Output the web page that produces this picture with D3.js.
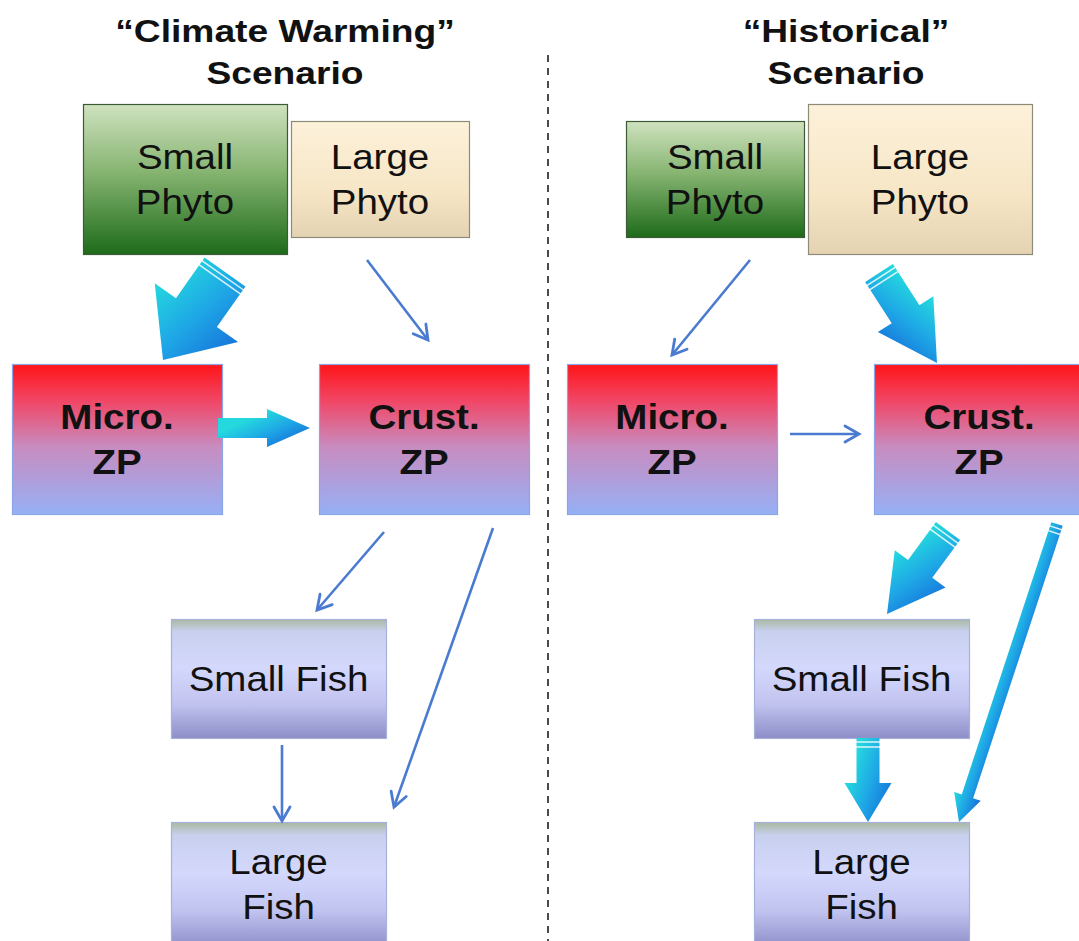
<!DOCTYPE html>
<html><head><meta charset="utf-8">
<script src="https://cdn.jsdelivr.net/npm/d3@7"></script>
<style>html,body{margin:0;padding:0;background:#fff;}svg{display:block;}</style>
</head><body>
<script>
// ---- data ----
const scenarioTitles = ["“Climate Warming”", "“Historical”"];
const scenarioSubtitle = "Scenario";
const nodeIds = ["sp", "lp", "micro", "crust", "sf", "lf"];
const nodeLabels = [["Small", "Phyto"], ["Large", "Phyto"], ["Micro.", "ZP"], ["Crust.", "ZP"], ["Small Fish"], ["Large", "Fish"]];
const nodeStyle = ["green", "beige", "zp", "zp", "fish", "fish"];
const nodeBold = [false, false, true, true, false, false];
// links: [source, target, strength] ; strength "strong" = fat arrow, "weak" = thin arrow
const linksWarming = [["sp", "micro", "strong"], ["lp", "crust", "weak"], ["micro", "crust", "strong"], ["crust", "sf", "weak"], ["crust", "lf", "weak"], ["sf", "lf", "weak"]];
const linksHistorical = [["sp", "micro", "weak"], ["lp", "crust", "strong"], ["micro", "crust", "weak"], ["crust", "sf", "strong"], ["crust", "lf", "strong"], ["sf", "lf", "strong"]];

// ---- layout (geometry) ----
const W = 1079, H = 941;
const boxes = [
  {sp: [83, 104, 204, 150], lp: [291, 121, 178, 116], micro: [12, 364, 210, 150], crust: [319, 364, 210, 150], sf: [171, 619, 215, 119], lf: [171, 822, 215, 125]},
  {sp: [626, 121, 178, 116], lp: [808, 104, 224, 150], micro: [567, 364, 210, 150], crust: [874, 364, 210, 150], sf: [754, 619, 215, 119], lf: [754, 822, 215, 125]}
];
const titleX = [285, 846];
const arrowGeom = [
  {"sp-micro": {t: [225, 272], h: [163, 360], sw: 50, hw: 102, hl: 58, side: 1, tilt: 0.4, stripes: true},
   "lp-crust": {t: [367, 260], h: [428, 340]},
   "micro-crust": {t: [218, 428], h: [310, 428], sw: 20, hw: 38, hl: 43, side: -1, tilt: 0.4, stripes: false},
   "crust-sf": {t: [384, 532], h: [317, 610]},
   "crust-lf": {t: [493, 528], h: [394, 807]},
   "sf-lf": {t: [282, 745], h: [282, 821]}},
  {"sp-micro": {t: [750, 260], h: [672, 355]},
   "lp-crust": {t: [879, 273], h: [937, 363], sw: 33, hw: 66, hl: 58, side: -1, tilt: 0.4, stripes: true},
   "micro-crust": {t: [790, 434], h: [859, 434]},
   "crust-sf": {t: [948, 531], h: [887, 614], sw: 30, hw: 63, hl: 56, side: 1, tilt: 0.4, stripes: true},
   "crust-lf": {t: [1057, 524], h: [959, 822], sw: 12, hw: 28, hl: 27, side: 1, tilt: 0, stripes: true},
   "sf-lf": {t: [868, 738], h: [868, 822], sw: 23, hw: 47, hl: 39, side: 1, tilt: 0.4, stripes: true}}
];

const svg = d3.select("body").append("svg").attr("width", W).attr("height", H);
const defs = svg.append("defs");

function vGrad(id, stops) {
  const g = defs.append("linearGradient").attr("id", id).attr("x1", 0).attr("y1", 0).attr("x2", 0).attr("y2", 1);
  stops.forEach(s => g.append("stop").attr("offset", s[0]).attr("stop-color", s[1]));
}
vGrad("g-green", [[0, "#cfe2bf"], [0.45, "#86b471"], [1, "#1d6b1a"]]);
vGrad("g-beige", [[0, "#fdf1da"], [0.6, "#f6e6c6"], [1, "#e3d3b2"]]);
vGrad("g-zp", [[0, "#ff1418"], [0.25, "#f04868"], [0.55, "#c88cc0"], [1, "#96b0f6"]]);
vGrad("g-fish", [[0, "#a9b9a2"], [0.1, "#c8d0ee"], [0.4, "#d4d8fc"], [0.7, "#c2c4f0"], [1, "#8d8ec8"]]);
const styleFill = {green: "url(#g-green)", beige: "url(#g-beige)", zp: "url(#g-zp)", fish: "url(#g-fish)"};
const styleStroke = {green: "#3d5a36", beige: "#8e8a78", zp: "#8aa6e6", fish: "#a8b0dc"};

// dashed divider
svg.append("line").attr("x1", 548).attr("x2", 548).attr("y1", 55).attr("y2", H)
  .attr("stroke", "#4a4a4a").attr("stroke-width", 2).attr("stroke-dasharray", "7,6");

const font = "'Liberation Sans', Arial, sans-serif";
const thinColor = "#4a7bd0";
let gradCount = 0;

function fatArrow(g, a) {
  const dx = a.h[0] - a.t[0], dy = a.h[1] - a.t[1];
  const L = Math.hypot(dx, dy), ux = dx / L, uy = dy / L, nx = -uy, ny = ux;
  const P = (u, v) => [a.t[0] + u * ux + v * nx, a.t[1] + u * uy + v * ny];
  const pts = [[0, -a.sw / 2], [L - a.hl, -a.sw / 2], [L - a.hl, -a.hw / 2], [L, 0], [L - a.hl, a.hw / 2], [L - a.hl, a.sw / 2], [0, a.sw / 2]].map(p => P(p[0], p[1]));
  const id = "fa" + (gradCount++);
  const c1 = P(L - a.hl * 0.9, a.side * a.hw / 2), c2 = P(L - a.hl * (0.9 - a.tilt), -a.side * a.hw / 2);
  const gr = defs.append("linearGradient").attr("id", id).attr("gradientUnits", "userSpaceOnUse")
    .attr("x1", c1[0]).attr("y1", c1[1]).attr("x2", c2[0]).attr("y2", c2[1]);
  gr.append("stop").attr("offset", 0).attr("stop-color", "#24d8de");
  gr.append("stop").attr("offset", 0.5).attr("stop-color", "#1ea6e6");
  gr.append("stop").attr("offset", 1).attr("stop-color", "#1670d8");
  g.append("path").attr("d", d3.line()(pts) + "Z").attr("fill", `url(#${id})`);
  if (a.stripes) {
    [4, 9].forEach(u => {
      const p1 = P(u, -a.sw / 2 - 1), p2 = P(u, a.sw / 2 + 1);
      g.append("line").attr("x1", p1[0]).attr("y1", p1[1]).attr("x2", p2[0]).attr("y2", p2[1])
        .attr("stroke", "#fff").attr("stroke-width", 1.5).attr("opacity", 0.85);
    });
  }
}
function thinArrow(g, a) {
  const dx = a.h[0] - a.t[0], dy = a.h[1] - a.t[1];
  const L = Math.hypot(dx, dy), ux = dx / L, uy = dy / L, nx = -uy, ny = ux;
  const hl = 14, hw = 8;
  g.append("line").attr("x1", a.t[0]).attr("y1", a.t[1]).attr("x2", a.h[0] - ux).attr("y2", a.h[1] - uy)
    .attr("stroke", thinColor).attr("stroke-width", 2.6);
  const w1 = [a.h[0] - ux * hl + nx * hw, a.h[1] - uy * hl + ny * hw];
  const w2 = [a.h[0] - ux * hl - nx * hw, a.h[1] - uy * hl - ny * hw];
  g.append("path").attr("d", d3.line()([w1, a.h, w2])).attr("fill", "none")
    .attr("stroke", thinColor).attr("stroke-width", 2.8).attr("stroke-linejoin", "miter").attr("stroke-linecap", "round");
}

function stretchedText(g, x, y, txt, size, bold, sx) {
  g.append("text").attr("transform", `translate(${x},${y}) scale(${sx},1)`)
    .attr("text-anchor", "middle").attr("font-family", font).attr("font-size", size)
    .attr("font-weight", bold ? "bold" : "normal").attr("fill", "#111").text(txt);
}

[linksWarming, linksHistorical].forEach((links, pi) => {
  const g = svg.append("g");
  stretchedText(g, titleX[pi], 42, scenarioTitles[pi], 31, true, 1.2);
  stretchedText(g, titleX[pi], 84, scenarioSubtitle, 31, true, 1.2);
  nodeIds.forEach((id, i) => {
    const b = boxes[pi][id];
    const st = nodeStyle[i];
    g.append("rect").attr("x", b[0] + 0.5).attr("y", b[1] + 0.5).attr("width", b[2]).attr("height", b[3])
      .attr("fill", styleFill[st]).attr("stroke", styleStroke[st]).attr("stroke-width", 1.2);
    const lines = nodeLabels[i];
    const cx = b[0] + b[2] / 2;
    const cy = id === "lf" ? 884 : b[1] + b[3] / 2;
    const lh = 45;
    lines.forEach((t, k) => {
      const y = cy + (k - (lines.length - 1) / 2) * lh + 12.5;
      stretchedText(g, cx, y, t, 35, nodeBold[i], 1.1);
    });
  });
  links.forEach(l => {
    const a = arrowGeom[pi][l[0] + "-" + l[1]];
    if (l[2] === "strong") fatArrow(g, a); else thinArrow(g, a);
  });
});
</script>
</body></html>
